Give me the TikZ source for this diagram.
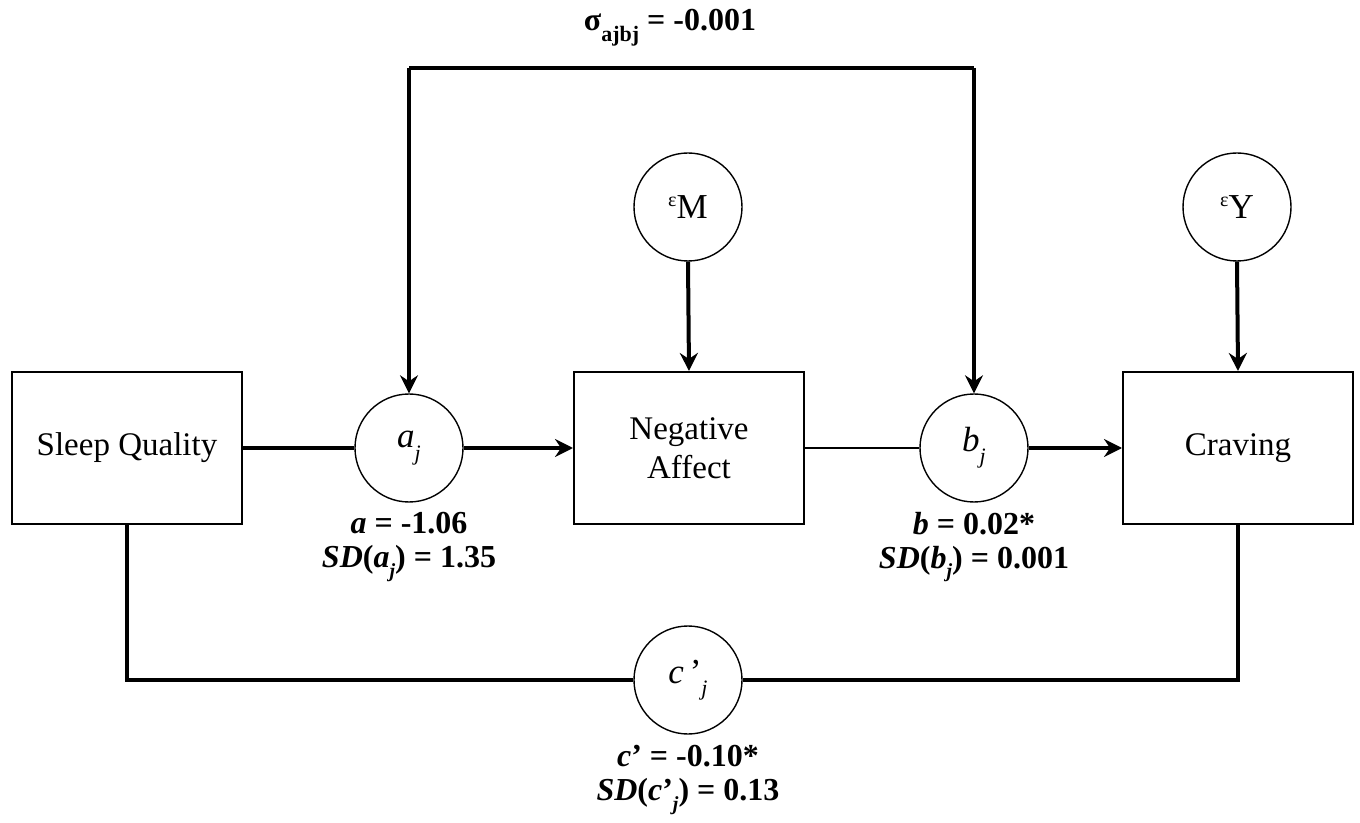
\documentclass[tikz,border=0pt]{standalone}
\usepackage{fontspec}
\setmainfont{Liberation Serif}
\usetikzlibrary{arrows.meta}
\begin{document}
\begin{tikzpicture}[x=0.5pt,y=-0.5pt,
  box/.style={draw,line width=1pt,minimum width=115pt,minimum height=76pt,inner sep=0pt,align=center,font=\fontsize{16.5}{19.5}\selectfont},
  circ/.style={draw,line width=0.7pt,shape=circle,minimum size=54pt,inner sep=0pt,font=\fontsize{17.5}{19}\selectfont},
  lab/.style={font=\bfseries\fontsize{16}{17}\selectfont,align=center},
  thk/.style={line width=2pt},
  arr/.style={line width=2pt,-{Stealth[length=9pt,width=9pt,inset=3pt]}}]
\useasboundingbox (0,0) rectangle (1360,823);
\node[box] (sq) at (127,448) {Sleep Quality};
\node[box] (na) at (689,448) {Negative\\Affect};
\node[box] (cr) at (1238,448) {Craving};
\node[circ] (aj) at (409,448) {\textit{a}\raisebox{-0.35em}{\fontsize{11}{11}\selectfont\textit{j}}};
\node[circ] (bj) at (974,448) {\textit{b}\raisebox{-0.35em}{\fontsize{11}{11}\selectfont\textit{j}}};
\node[circ] (cj) at (688,680) {\textit{c}\,'\raisebox{-0.35em}{\fontsize{11}{11}\selectfont\textit{j}}};
\node[circ] (em) at (688,207) {\raisebox{0.35em}{\fontsize{10}{10}\selectfont ε}M};
\node[circ] (ey) at (1237,207) {\raisebox{0.35em}{\fontsize{10}{10}\selectfont ε}Y};
\coordinate (t1) at (409,68);
\coordinate (t2) at (974,68);
\coordinate (s1) at (127,680);
\coordinate (s2) at (1238,680);
\node[font=\bfseries\fontsize{16}{17}\selectfont] (sig) at (670,28) {σ\raisebox{-0.35em}{\fontsize{11}{11}\selectfont ajbj} = -0.001};
\node[lab] (la) at (409,547) {\textit{a} = -1.06\\\textit{SD}(\textit{a}\raisebox{-0.3em}{\fontsize{10}{10}\selectfont\textit{j}}) = 1.35};
\node[lab] (lb) at (974,547) {\textit{b} = 0.02*\\\textit{SD}(\textit{b}\raisebox{-0.3em}{\fontsize{10}{10}\selectfont\textit{j}}) = 0.001};
\node[lab] (lc) at (688,780) {\textit{c}' = -0.10*\\\textit{SD}(\textit{c}'\raisebox{-0.3em}{\fontsize{10}{10}\selectfont\textit{j}}) = 0.13};
\draw[thk] (sq.east) -- (aj.west);
\draw[arr] (aj.east) -- (na.west);
\draw[line width=1.3pt] (na.east) -- (bj.west);
\draw[arr] (bj.east) -- (cr.west);
\draw[arr] (em.south) -- (na.north);
\draw[arr] (ey.south) -- (cr.north);
\draw[thk] (t2) -- (t1);
\draw[arr] (t1) -- (aj.north);
\draw[arr] (t2) -- (bj.north);
\draw[thk] (sq.south -| s1) -- (s1) -- (cj.west);
\draw[thk] (cj.east) -- (s2) -- (cr.south -| s2);
\end{tikzpicture}
\end{document}
